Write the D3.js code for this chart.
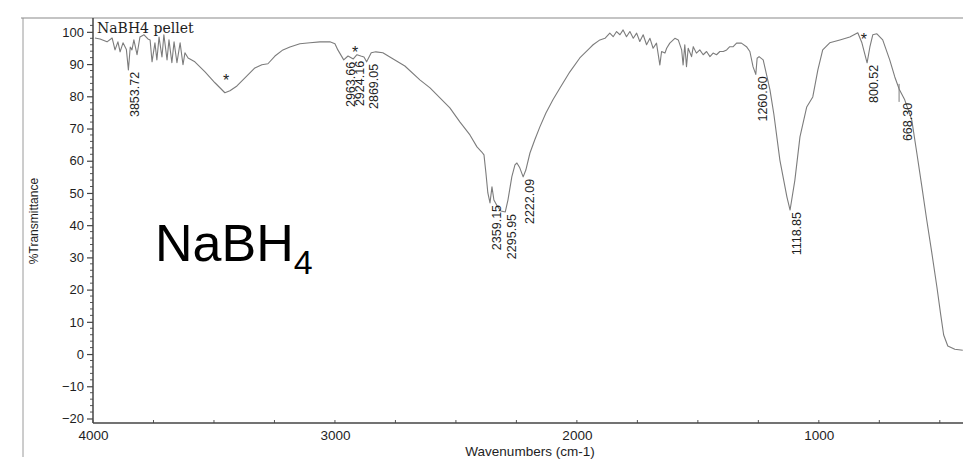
<!DOCTYPE html>
<html>
<head>
<meta charset="utf-8">
<script src="https://cdn.jsdelivr.net/npm/d3@7/dist/d3.min.js"></script>
<style>
  html, body { margin: 0; padding: 0; background: #ffffff; }
  svg { display: block; }
</style>
</head>
<body>
<svg id="chart" width="963" height="460"></svg>
<script>
// IR spectrum of a NaBH4 pellet: wavenumber (cm-1) vs %Transmittance
const wavenumbers = [
  3992, 3971, 3942, 3921, 3909, 3897, 3888, 3876, 3862, 3853.72, 3846, 3839, 3831, 3818, 3806,
  3789, 3773, 3764, 3756, 3744, 3736, 3727, 3715, 3707, 3694, 3686, 3674, 3665, 3653, 3640,
  3628, 3620, 3607, 3579, 3537, 3496, 3455, 3434, 3405, 3372, 3331, 3302, 3277, 3248, 3215,
  3186, 3145, 3103, 3062, 3021, 3000, 2988, 2963.66, 2946, 2924.16, 2909, 2893, 2880, 2869.05,
  2850, 2831, 2802, 2773, 2711, 2649, 2607, 2566, 2525, 2483, 2442, 2413, 2393, 2384, 2376,
  2368, 2359.15, 2351, 2343, 2330, 2314, 2295.95, 2285, 2269, 2256, 2248, 2236, 2222.09, 2211,
  2194, 2174, 2153, 2128, 2099, 2070, 2029, 1988, 1946, 1933, 1905, 1884, 1864, 1850, 1836,
  1822, 1809, 1795, 1781, 1767, 1753, 1740, 1726, 1712, 1698, 1685, 1671, 1657, 1650, 1636,
  1629, 1616, 1595, 1581, 1567, 1561, 1554, 1547, 1540, 1526, 1519, 1506, 1492, 1478, 1464,
  1450, 1437, 1423, 1409, 1395, 1381, 1368, 1354, 1340, 1320, 1299, 1285, 1272, 1260.60, 1255,
  1247, 1230, 1214, 1202, 1186, 1161, 1132, 1118.85, 1099, 1078, 1050, 1025, 1004, 984,
  955, 913, 872, 839, 822, 800.52, 789, 777, 760, 736, 707, 686, 674, 668.30, 645,
  616, 595, 574, 554, 533, 512, 496, 484, 467, 438, 405
];
const transmittance = [
  98.1, 97.8, 96.9, 98.1, 94.4, 96.9, 93.8, 96.6, 94.5, 88.2, 95.3, 94.4, 97.5, 92.9, 98.4,
  99.1, 97.8, 97.5, 90.7, 96.6, 91.3, 98.4, 92.2, 99.1, 91.3, 97.5, 90.4, 96.9, 90.4, 96.6,
  89.8, 93.5, 91.9, 90.7, 87.6, 84.2, 81.1, 81.7, 83.2, 85.7, 88.8, 89.8, 90.1, 92.5, 94.4,
  95.3, 96.3, 96.6, 96.9, 96.9, 96.3, 94.4, 91.3, 92.5, 91.6, 92.9, 92.5, 92.2, 90.7,
  93.5, 93.8, 93.5, 92.2, 89.4, 85.1, 82.6, 79.5, 76.4, 72.0, 68.0, 64.3, 62.7, 61.8, 56.2,
  50.0, 46.9, 51.9, 47.8, 46.0, 44.4, 44.1, 47.8, 55.0, 58.7, 59.3, 57.8, 55.0, 57.1,
  62.4, 66.5, 70.5, 74.8, 78.9, 82.6, 87.6, 91.9, 95.0, 96.0, 97.5, 98.0, 99.6, 98.5, 100.1,
  99.1, 100.6, 98.5, 100.1, 98.0, 99.6, 97.0, 99.1, 96.0, 98.0, 94.9, 96.5, 89.7, 93.9, 93.4,
  94.9, 96.5, 98.0, 97.5, 94.4, 89.7, 96.0, 89.2, 94.9, 92.3, 95.4, 93.4, 94.4, 92.9, 93.9,
  92.3, 93.4, 92.9, 93.9, 93.9, 94.4, 95.4, 95.4, 96.5, 96.5, 95.4, 93.9, 89.2, 86.8, 91.8,
  92.3, 91.3, 86.0, 82.0, 74.5, 60.2, 48.8, 44.7, 54.0, 67.4, 76.7, 79.8, 88.2, 94.4,
  96.6, 97.5, 98.4, 99.7, 96.6, 90.4, 95.3, 99.1, 99.4, 97.5, 91.3, 86.0, 83.5, 82.3, 78.9,
  72.7, 62.4, 51.9, 41.6, 31.4, 20.8, 12.1, 5.9, 2.5, 1.5, 1.2
];

// Annotated band positions (cm-1)
const peakWavenumbers = [3853.72, 2963.66, 2924.16, 2869.05, 2359.15, 2295.95, 2222.09, 1260.60, 1118.85, 800.52, 668.30];

// Bands marked with an asterisk
const starWavenumbers = [3450, 2917, 814];
const starTransmittance = [86.0, 94.7, 98.8];

const xTickValues = [4000, 3000, 2000, 1000];
const yTickValues = [-20, -10, 0, 10, 20, 30, 40, 50, 60, 70, 80, 90, 100];

const sampleTitle = "NaBH4 pellet";
const xTitle = "Wavenumbers (cm-1)";
const yTitle = "%Transmittance";

const spectrum = wavenumbers.map((w, i) => ({ wn: w, t: transmittance[i] }));

const svg = d3.select("#chart");
const W = 963, H = 460;
const plotLeft = 93, plotRight = 964, plotTop = 18, plotBottom = 423;

const x = d3.scaleLinear().domain([4000, 400]).range([plotLeft, plotRight]);
const y = d3.scaleLinear().domain([-21.4, 104.3]).range([plotBottom, plotTop]);

const ink = "#1e1e1e";
const sans = "Arial, 'Liberation Sans', sans-serif";

// outer page frame
svg.append("line").attr("x1", 23).attr("x2", 23).attr("y1", plotTop).attr("y2", 457)
  .attr("stroke", "#9a9a9a").attr("stroke-width", 1);
svg.append("line").attr("x1", 21).attr("x2", W).attr("y1", plotTop).attr("y2", plotTop)
  .attr("stroke", "#8a8a8a").attr("stroke-width", 1.2);

// y axis
const yAxis = d3.axisLeft(y).tickValues(yTickValues).tickSize(6).tickPadding(3)
  .tickFormat(d3.format("d"));
const gy = svg.append("g").attr("transform", `translate(${plotLeft},0)`).call(yAxis);
gy.select(".domain").remove();
gy.selectAll("line").attr("stroke", "#444").attr("stroke-width", 1.2);
gy.selectAll("text").attr("fill", ink).style("font-family", sans).style("font-size", "13px");

// y minor ticks every 2 %T
const yMinor = d3.range(-20, 104, 2).filter(v => v % 10 !== 0);
svg.append("g").selectAll("line").data(yMinor).join("line")
  .attr("x1", plotLeft - 3).attr("x2", plotLeft)
  .attr("y1", d => y(d)).attr("y2", d => y(d))
  .attr("stroke", "#555").attr("stroke-width", 1);

svg.append("line").attr("x1", plotLeft).attr("x2", plotLeft).attr("y1", plotTop).attr("y2", plotBottom)
  .attr("stroke", "#444").attr("stroke-width", 1.5);

// x axis
const xAxis = d3.axisBottom(x).tickValues(xTickValues).tickSize(0).tickPadding(7)
  .tickFormat(d3.format("d"));
const gx = svg.append("g").attr("transform", `translate(0,${plotBottom})`).call(xAxis);
gx.select(".domain").remove();
gx.selectAll("text").attr("fill", ink).style("font-family", sans).style("font-size", "13.5px");

const xMinor = d3.range(4000, 400, -250);
svg.append("g").selectAll("line").data(xMinor).join("line")
  .attr("x1", d => x(d)).attr("x2", d => x(d))
  .attr("y1", plotBottom - 3).attr("y2", plotBottom)
  .attr("stroke", "#555").attr("stroke-width", 1);

svg.append("line").attr("x1", plotLeft).attr("x2", W).attr("y1", plotBottom).attr("y2", plotBottom)
  .attr("stroke", "#444").attr("stroke-width", 1.6);

// axis titles
svg.append("text").attr("x", 530).attr("y", 456)
  .attr("text-anchor", "middle").attr("fill", ink)
  .style("font-family", sans).style("font-size", "13.5px")
  .text(xTitle);
svg.append("text").attr("transform", "translate(38,221) rotate(-90)")
  .attr("text-anchor", "middle").attr("fill", ink)
  .style("font-family", sans).style("font-size", "12px")
  .text(yTitle);

// spectrum trace
const line = d3.line().x(d => x(d.wn)).y(d => y(d.t));
svg.append("path").datum(spectrum).attr("d", line)
  .attr("fill", "none").attr("stroke", "#7c7c7c").attr("stroke-width", 1.1)
  .attr("stroke-linejoin", "round");

// sample title
svg.append("text").attr("x", 97).attr("y", 33).attr("fill", ink)
  .style("font-family", "'DejaVu Serif', 'Liberation Serif', serif").style("font-size", "14px")
  .text(sampleTitle);

// large compound label NaBH4
const big = svg.append("text").attr("x", 155).attr("y", 261).attr("fill", "#000")
  .style("font-family", sans).style("font-size", "52px");
big.append("tspan").text("NaBH");
big.append("tspan").attr("dy", 13).style("font-size", "34px").text("4");

// band labels, written vertically below each band
const tAt = wn => spectrum.find(d => Math.abs(d.wn - wn) < 1e-6).t;
const labelShiftY = { "668.3": 12 };
const labelShiftX = { "668.3": 9 };
svg.append("g").selectAll("text").data(peakWavenumbers).join("text")
  .attr("transform", d => {
    const px = x(d) + (labelShiftX[String(d)] || 7);
    const py = y(tAt(d)) + 2 + (labelShiftY[String(d)] || 0);
    return `translate(${px},${py}) rotate(-90)`;
  })
  .attr("text-anchor", "end").attr("dominant-baseline", "central")
  .attr("fill", ink)
  .style("font-family", sans).style("font-size", "12.5px")
  .text(d => d.toFixed(2));

// short marker stroke at the 668 cm-1 shoulder
svg.append("line").datum(668.30)
  .attr("x1", d => x(d)).attr("x2", d => x(d))
  .attr("y1", d => y(tAt(d)) - 5).attr("y2", d => y(tAt(d)) + 13)
  .attr("stroke", "#7c7c7c").attr("stroke-width", 1);

// asterisks
svg.append("g").selectAll("text").data(starWavenumbers).join("text")
  .attr("x", d => x(d)).attr("y", (d, i) => y(starTransmittance[i]) + 9)
  .attr("text-anchor", "middle").attr("fill", ink)
  .style("font-family", sans).style("font-size", "16px")
  .text("*");
</script>
</body>
</html>
